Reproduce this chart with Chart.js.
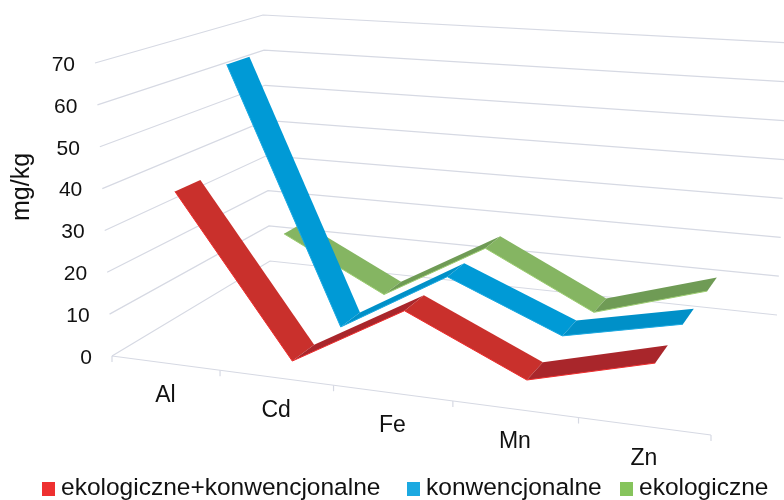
<!DOCTYPE html>
<html>
<head>
<meta charset="utf-8">
<script src="https://cdn.jsdelivr.net/npm/chart.js@4"></script>
<style>
  html, body { margin: 0; padding: 0; background: #fff; }
  #wrap { width: 784px; height: 500px; overflow: hidden; }
</style>
</head>
<body>
<div id="wrap"><canvas id="chart" width="784" height="500"></canvas></div>
<script>
const categories = ['Al', 'Cd', 'Fe', 'Mn', 'Zn']
const seriesNames = ['ekologiczne+konwencjonalne', 'konwencjonalne', 'ekologiczne']
const ekoKonwValues = [38.5, 1, 16, 3.5, 10.8]
const konwValues = [64.5, 0.5, 16, 4.7, 10.7]
const ekoValues = [14, 0.5, 15.5, 1.9, 10.3]
const yTicks = [0, 10, 20, 30, 40, 50, 60, 70]

const legendColors = ['#ee3030', '#1ba9e1', '#86c45c']
const topColors = ['#c9302c', '#009ad6', '#85b562']
const underColors = ['#a9262b', '#0090c8', '#6f9b55']
const edgeColors = ['#ee2c2c', '#1ba9e1', '#9ccc70']

const FONT = '"Liberation Sans", Arial, sans-serif'
const GRID = '#d6d9e3'

// corners of the 3d box as seen on screen: front-left, front-right, back-right, back-left
const floorQuad = [[112, 356], [711, 435], [777, 315], [270, 261]]
const topQuad = [[95, 63], [733, 110], [790, 43], [263, 15]]
const seriesDepth = [0.175, 0.505, 0.84]
const ribbonHalf = 0.072
const legendX = [42, 407, 620]

const makeHomography = (q)=>{
  const [[x0, y0], [x1, y1], [x2, y2], [x3, y3]] = q
  const dx1 = x1 - x2, dx2 = x3 - x2, sx = x0 - x1 + x2 - x3
  const dy1 = y1 - y2, dy2 = y3 - y2, sy = y0 - y1 + y2 - y3
  const den = dx1 * dy2 - dx2 * dy1
  const g = (sx * dy2 - dx2 * sy) / den
  const h = (dx1 * sy - sx * dy1) / den
  const a = x1 - x0 + g * x1, b = x3 - x0 + h * x3
  const d = y1 - y0 + g * y1, e = y3 - y0 + h * y3
  return (u, w)=>{
    const k = g * u + h * w + 1
    return [(a * u + b * w + x0) / k, (d * u + e * w + y0) / k]
  }
}
const floorMap = makeHomography(floorQuad)
const topMap = makeHomography(topQuad)

const project = (u, v, w)=>{
  const f = floorMap(u, w)
  const t = topMap(u, w)
  return [f[0] + (t[0] - f[0]) * v, f[1] + (t[1] - f[1]) * v]
}

const polyline = (ctx, pts)=>{
  ctx.beginPath()
  pts.forEach((p, i)=> i ? ctx.lineTo(p[0], p[1]) : ctx.moveTo(p[0], p[1]))
}

const box3d = {
  id: 'box3d',
  beforeDatasetsDraw(chart) {
    const { ctx, chartArea, scales } = chart
    const toV = (val)=> (chartArea.bottom - scales.y.getPixelForValue(val)) / chartArea.height
    ctx.save()
    ctx.strokeStyle = GRID
    ctx.lineWidth = 1.2
    // walls
    yTicks.forEach((val)=>{
      const v = toV(val)
      polyline(ctx, [project(0, v, 0), project(0, v, 1), project(1, v, 1)])
      ctx.stroke()
    })
    // front edge of the floor with its tick marks
    polyline(ctx, [project(0, 0, 0), project(1, 0, 0)])
    ctx.stroke()
    for (let i = 0; i <= categories.length; i++) {
      const p = project(i / categories.length, 0, 0)
      polyline(ctx, [p, [p[0], p[1] + 6]])
      ctx.stroke()
    }
    // tick labels
    ctx.fillStyle = '#111'
    ctx.font = '21px ' + FONT
    ctx.textAlign = 'right'
    ctx.textBaseline = 'middle'
    yTicks.forEach((val)=>{
      const p = project(0, toV(val), 0)
      ctx.fillText(String(val), p[0] - 20, p[1] + 2)
    })
    ctx.textAlign = 'center'
    ctx.font = '23px ' + FONT
    categories.forEach((name, i)=>{
      const u = (scales.x.getPixelForValue(i) - chartArea.left) / chartArea.width
      const p = project(u, 0, 0)
      ctx.fillText(name, p[0], p[1] + 33)
    })
    ctx.save()
    ctx.translate(22, 187)
    ctx.rotate(-Math.PI / 2)
    ctx.font = '25px ' + FONT
    ctx.fillText('mg/kg', 0, 0)
    ctx.restore()
    // legend, the built in one can't do these uneven gaps
    ctx.textAlign = 'left'
    ctx.font = '24.5px ' + FONT
    chart.data.datasets.forEach((ds, i)=>{
      ctx.fillStyle = ds.backgroundColor
      ctx.fillRect(legendX[i], 482, 13, 14)
      ctx.fillStyle = '#111'
      ctx.fillText(ds.label, legendX[i] + 19, 488)
    })
    ctx.restore()
  },
  afterDatasetsDraw(chart) {
    const { ctx, chartArea } = chart
    ctx.save()
    // back series first, the front ones cover them
    for (let s = chart.data.datasets.length - 1; s >= 0; s--) {
      const points = chart.getDatasetMeta(s).data
      const depth = seriesDepth[s]
      const corners = points.map((pt)=>{
        const u = (pt.x - chartArea.left) / chartArea.width
        const v = (chartArea.bottom - pt.y) / chartArea.height
        return [project(u, v, depth - ribbonHalf), project(u, v, depth + ribbonHalf)]
      })
      for (let i = 0; i < corners.length - 1; i++) {
        const [a, b] = corners[i]
        const [c, d] = corners[i + 1]
        const rising = chart.data.datasets[s].data[i + 1] > chart.data.datasets[s].data[i]
        ctx.fillStyle = rising ? underColors[s] : topColors[s]
        polyline(ctx, [a, c, d, b])
        ctx.closePath()
        ctx.fill()
        ctx.strokeStyle = edgeColors[s]
        ctx.lineWidth = 1
        polyline(ctx, [a, c])
        ctx.stroke()
      }
    }
    ctx.restore()
  }
}

const seriesValues = [ekoKonwValues, konwValues, ekoValues]

new Chart(document.getElementById('chart'), {
  type: 'line',
  data: {
    labels: categories,
    datasets: seriesNames.map((name, i)=>({
      label: name,
      data: seriesValues[i],
      backgroundColor: legendColors[i],
      borderColor: legendColors[i],
      borderWidth: 0,
      showLine: false,
      pointRadius: 0
    }))
  },
  options: {
    responsive: false,
    animation: false,
    layout: { padding: { bottom: 40 } },
    scales: {
      x: { display: false, offset: true },
      y: { display: false, min: 0, max: 70 }
    },
    plugins: {
      tooltip: { enabled: false },
      legend: { display: false }
    }
  },
  plugins: [box3d]
})
</script>
</body>
</html>
